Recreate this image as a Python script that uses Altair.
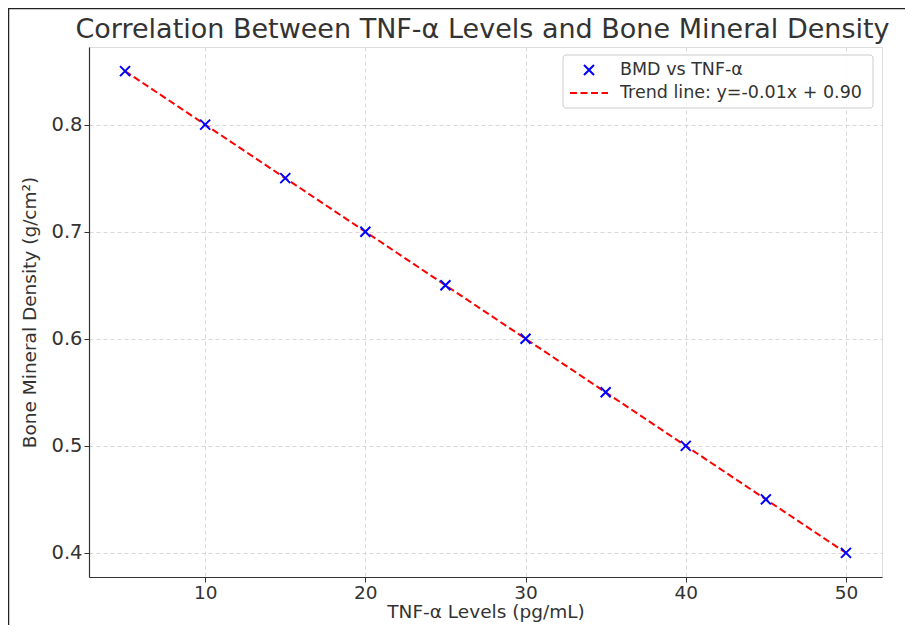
import altair as alt
import pandas as pd

# Data
tnf = [5, 10, 15, 20, 25, 30, 35, 40, 45, 50]
bmd = [0.85, 0.80, 0.75, 0.70, 0.65, 0.60, 0.55, 0.50, 0.45, 0.40]
slope = -0.01
intercept = 0.90
x_ticks = [10, 20, 30, 40, 50]
y_ticks = [0.4, 0.5, 0.6, 0.7, 0.8]
legend_labels = ["BMD vs TNF-\u03b1", "Trend line: y=-0.01x + 0.90"]
title_text = "Correlation Between TNF-\u03b1 Levels and Bone Mineral Density"

df = pd.DataFrame({"tnf": tnf, "bmd": bmd})
trend = pd.DataFrame({"tnf": [tnf[0], tnf[-1]],
                      "bmd": [slope * tnf[0] + intercept, slope * tnf[-1] + intercept]})

FONT = "DejaVu Sans"
TXT = "#333333"

xs = alt.Scale(domain=[2.75, 52.25], nice=False, zero=False)
ys = alt.Scale(domain=[0.3775, 0.8725], nice=False, zero=False)

common = dict(grid=True, gridColor="#cfcfcf", gridDash=[4, 3], gridWidth=0.8,
              domainColor="#333333", domainWidth=1.2, tickColor="#333333",
              tickSize=5, tickWidth=1, labelColor=TXT, labelFont=FONT,
              titleFontSize=18.5, titleFont=FONT, titleColor=TXT,
              titleFontWeight="normal")
xax = alt.Axis(values=x_ticks, title="TNF-\u03b1 Levels (pg/mL)", format="d",
               labelFontSize=18.5, labelPadding=1, titlePadding=1, **common)
yax = alt.Axis(values=y_ticks, title="Bone Mineral Density (g/cm\u00b2)", format=".1f",
               labelFontSize=19.5, labelPadding=2, titlePadding=11, **common)

XPATH = "M-1,-1L1,1M1,-1L-1,1"

line = alt.Chart(trend).mark_line(color="red", strokeWidth=2, strokeDash=[7, 3.5]).encode(
    x=alt.X("tnf:Q", scale=xs, axis=xax),
    y=alt.Y("bmd:Q", scale=ys, axis=yax),
)
pts = alt.Chart(df).mark_point(shape=XPATH, size=100, filled=False, color="blue",
                               strokeWidth=2, opacity=1).encode(
    x=alt.X("tnf:Q", scale=xs),
    y=alt.Y("bmd:Q", scale=ys),
)

one = pd.DataFrame({"a": [0]})

# Frame around the figure
frame = alt.Chart(one).mark_rect(
    fill=None, stroke="#222222", strokeWidth=1.5).encode(
    x=alt.value(-80.5), x2=alt.value(1200), y=alt.value(-38.5), y2=alt.value(1200))

# Title
title = alt.Chart(pd.DataFrame({"t": [title_text]})).mark_text(
    align="center", baseline="alphabetic", fontSize=27, font=FONT, color=TXT).encode(
    x=alt.value(393.5), y=alt.value(-9), text="t:N")

# Legend (manual)
leg_box = alt.Chart(one).mark_rect(
    fill="white", fillOpacity=0.85, stroke="#cccccc", strokeWidth=1, cornerRadius=3).encode(
    x=alt.value(474), x2=alt.value(784), y=alt.value(8), y2=alt.value(61))
leg_df = pd.DataFrame({"label": legend_labels})
leg_pt = alt.Chart(leg_df.iloc[[0]]).mark_point(shape=XPATH, size=100, filled=False, color="blue",
                                                 strokeWidth=2, opacity=1).encode(
    x=alt.value(500), y=alt.value(23))
leg_ln = alt.Chart(leg_df.iloc[[1]]).mark_rule(color="red", strokeWidth=2, strokeDash=[7, 3.5]).encode(
    x=alt.value(481), x2=alt.value(519), y=alt.value(46))
leg_t1 = alt.Chart(leg_df.iloc[[0]]).mark_text(align="left", baseline="middle", fontSize=17.5,
                                               font=FONT, color=TXT).encode(
    x=alt.value(531), y=alt.value(23), text="label:N")
leg_t2 = alt.Chart(leg_df.iloc[[1]]).mark_text(align="left", baseline="middle", fontSize=17.5,
                                               font=FONT, color=TXT).encode(
    x=alt.value(531), y=alt.value(46), text="label:N")

chart = alt.layer(frame, line, pts, leg_box, leg_pt, leg_ln, leg_t1, leg_t2, title).properties(
    width=793, height=530,
    autosize=alt.AutoSizeParams(type="none"),
    padding={"left": 81, "top": 39, "right": 23, "bottom": 48},
).configure_view(stroke=None).configure(background="white")

chart.save("out.html", embed_options={"renderer": "svg", "actions": False})
